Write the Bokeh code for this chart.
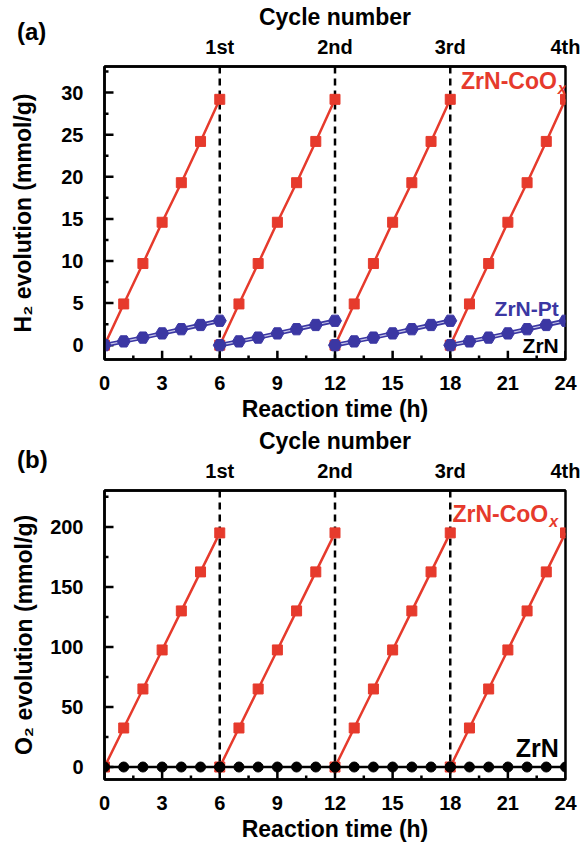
from bokeh.plotting import figure
from bokeh.models import Range1d, LinearAxis, FixedTicker, Span, Div
from bokeh.layouts import column
from bokeh.embed import file_html
from bokeh.resources import INLINE

# ---- data ----
hours = [0, 1, 2, 3, 4, 5, 6]                 # hours within one cycle
cycle_starts = [0, 6, 12, 18]                  # start time of each cycle (h)
cycle_ends = [6, 12, 18, 24]                   # end time of each cycle (h)
cycle_labels = ["1st", "2nd", "3rd", "4th"]

h2_coox = [0.0, 4.9, 9.7, 14.6, 19.3, 24.2, 29.2]   # ZrN-CoOx, H2 (mmol/g)
h2_pt = [0.0, 0.45, 0.9, 1.4, 1.9, 2.4, 2.9]        # ZrN-Pt, H2 (mmol/g)
o2_coox = [0.0, 32.5, 65.0, 97.5, 130.0, 162.5, 195.0]  # ZrN-CoOx, O2 (mmol/g)
o2_zrn = [0.0, 0.0, 0.0, 0.0, 0.0, 0.0, 0.0]          # ZrN, O2 (mmol/g)

# tick values
x_major = [0, 3, 6, 9, 12, 15, 18, 21, 24]
x_minor = [1.5, 4.5, 7.5, 10.5, 13.5, 16.5, 19.5, 22.5]
ya_major = [0, 5, 10, 15, 20, 25, 30]
ya_minor = [2.5, 7.5, 12.5, 17.5, 22.5, 27.5, 32.5]
yb_major = [0, 50, 100, 150, 200]
yb_minor = [25, 75, 125, 175, 225]

RED = "#e63a2c"
BLUE = "#3b37a3"
FONT = "Liberation Sans"
FRAME_W = 461  # px


def style_axis(ax):
    ax.major_label_text_font = FONT
    ax.major_label_text_font_style = "bold"
    ax.major_label_text_font_size = "20px"
    ax.major_label_text_color = "black"
    ax.axis_label_text_font = FONT
    ax.axis_label_text_font_style = "bold"
    ax.axis_label_text_font_size = "23px"
    ax.axis_label_text_color = "black"
    ax.axis_line_width = 2.5
    ax.axis_line_color = "black"
    ax.major_tick_line_color = None
    ax.minor_tick_line_color = None


def make_panel(height, top_b, bottom_b, yr, ymaj, ymin, ylabel, ystandoff):
    p = figure(width=580, height=height, x_range=Range1d(0, 24), y_range=Range1d(*yr),
               output_backend="svg", toolbar_location=None,
               min_border_left=104, min_border_right=15, min_border_top=top_b,
               min_border_bottom=bottom_b)
    p.xgrid.visible = False
    p.ygrid.visible = False
    p.outline_line_color = "black"
    p.outline_line_width = 2.5
    p.background_fill_color = "white"
    p.border_fill_color = "white"

    xa = p.xaxis[0]
    xa.ticker = FixedTicker(ticks=x_major, minor_ticks=x_minor)
    xa.axis_label = "Reaction time (h)"
    style_axis(xa)
    xa.major_label_standoff = 10
    xa.axis_label_standoff = 3

    ya = p.yaxis[0]
    ya.ticker = FixedTicker(ticks=ymaj, minor_ticks=ymin)
    ya.axis_label = ylabel
    style_axis(ya)
    ya.major_label_standoff = 15
    ya.axis_label_standoff = ystandoff

    top = LinearAxis(ticker=FixedTicker(ticks=cycle_ends),
                     major_label_overrides={float(e): lab for e, lab in zip(cycle_ends, cycle_labels)},
                     axis_label="Cycle number")
    style_axis(top)
    top.major_label_standoff = 3
    top.axis_label_standoff = 3
    p.add_layout(top, "above")

    for e in cycle_ends[:-1]:
        p.add_layout(Span(location=e, dimension="height", line_color="black",
                          line_width=2.5, line_dash="7 5", level="underlay"))

    # inward tick marks as segments (outer half is clipped by the frame)
    frame_h = height - top_b - bottom_b
    y0 = yr[0]
    ypx = (yr[1] - yr[0]) / frame_h
    xpx = 24 / FRAME_W
    for ticks, L in ((x_major, 9), (x_minor, 4)):
        p.segment(x0=ticks, y0=[y0 - L * ypx] * len(ticks), x1=ticks,
                  y1=[y0 + L * ypx] * len(ticks), line_color="black", line_width=2.5)
    for ticks, L in ((ymaj, 9), (ymin, 4)):
        p.segment(x0=[-L * xpx] * len(ticks), y0=ticks, x1=[L * xpx] * len(ticks),
                  y1=ticks, line_color="black", line_width=2.5)
    return p


def add_label(p, x, y, text, color, size, sub=None):
    p.text(x=[x], y=[y], text=[text], text_align="right", text_baseline="middle",
           text_font={"value": FONT}, text_font_style="bold", text_font_size=size,
           text_color=color)
    if sub:
        p.text(x=[x], y=[y], text=[sub], text_align="left", text_baseline="middle",
               x_offset=1, y_offset=8, text_font={"value": FONT},
               text_font_style="bold italic", text_font_size="16px", text_color=color)


# ---- panel (a): H2 ----
pa = make_panel(424, 62, 62, (-1.7, 33.1), ya_major, ya_minor, "H\u2082 evolution (mmol/g)", 22)
for s in cycle_starts:
    t = [s + h for h in hours]
    pa.line(t, h2_coox, line_color=RED, line_width=2.5)
    pa.scatter(t, h2_coox, marker="square", size=10, fill_color=RED, line_color=RED)
for s in cycle_starts:
    t = [s + h for h in hours]
    pa.line(t, h2_pt, line_color=BLUE, line_width=4.5)
    pa.line(t, h2_pt, line_color="#c4c3e8", line_width=1.2)
    pa.scatter(t, h2_pt, marker="hex", size=13, fill_color=BLUE, line_color=BLUE)
add_label(pa, 23.55, 31.4, "ZrN-CoO", RED, "23px", sub="x")
add_label(pa, 23.65, 4.4, "ZrN-Pt", BLUE, "21px")
add_label(pa, 23.65, 0.0, "ZrN", "black", "21px")

# ---- panel (b): O2 ----
pb = make_panel(420, 64, 62, (-10.4, 230.3), yb_major, yb_minor, "O\u2082 evolution (mmol/g)", 10)
for s in cycle_starts:
    t = [s + h for h in hours]
    pb.line(t, o2_coox, line_color=RED, line_width=2.5)
    pb.scatter(t, o2_coox, marker="square", size=10, fill_color=RED, line_color=RED)
for s in cycle_starts:
    t = [s + h for h in hours]
    pb.line(t, o2_zrn, line_color="black", line_width=2.5)
    pb.scatter(t, o2_zrn, marker="circle", size=10, fill_color="black", line_color="black")
add_label(pb, 23.1, 211, "ZrN-CoO", RED, "23px", sub="x")
add_label(pb, 23.65, 16, "ZrN", "black", "25px")

tag_style = {"position": "absolute", "left": "12px", "font-family": FONT,
             "font-weight": "bold", "font-size": "24px", "color": "black",
             "z-index": "10", "line-height": "26px"}
tag_a = Div(text="(a)", styles=dict(tag_style, top="14px"))
tag_b = Div(text="(b)", styles=dict(tag_style, top="442px"))

layout = column(tag_a, tag_b, pa, pb, spacing=0)
open("out.html", "w").write(file_html(layout, INLINE))
